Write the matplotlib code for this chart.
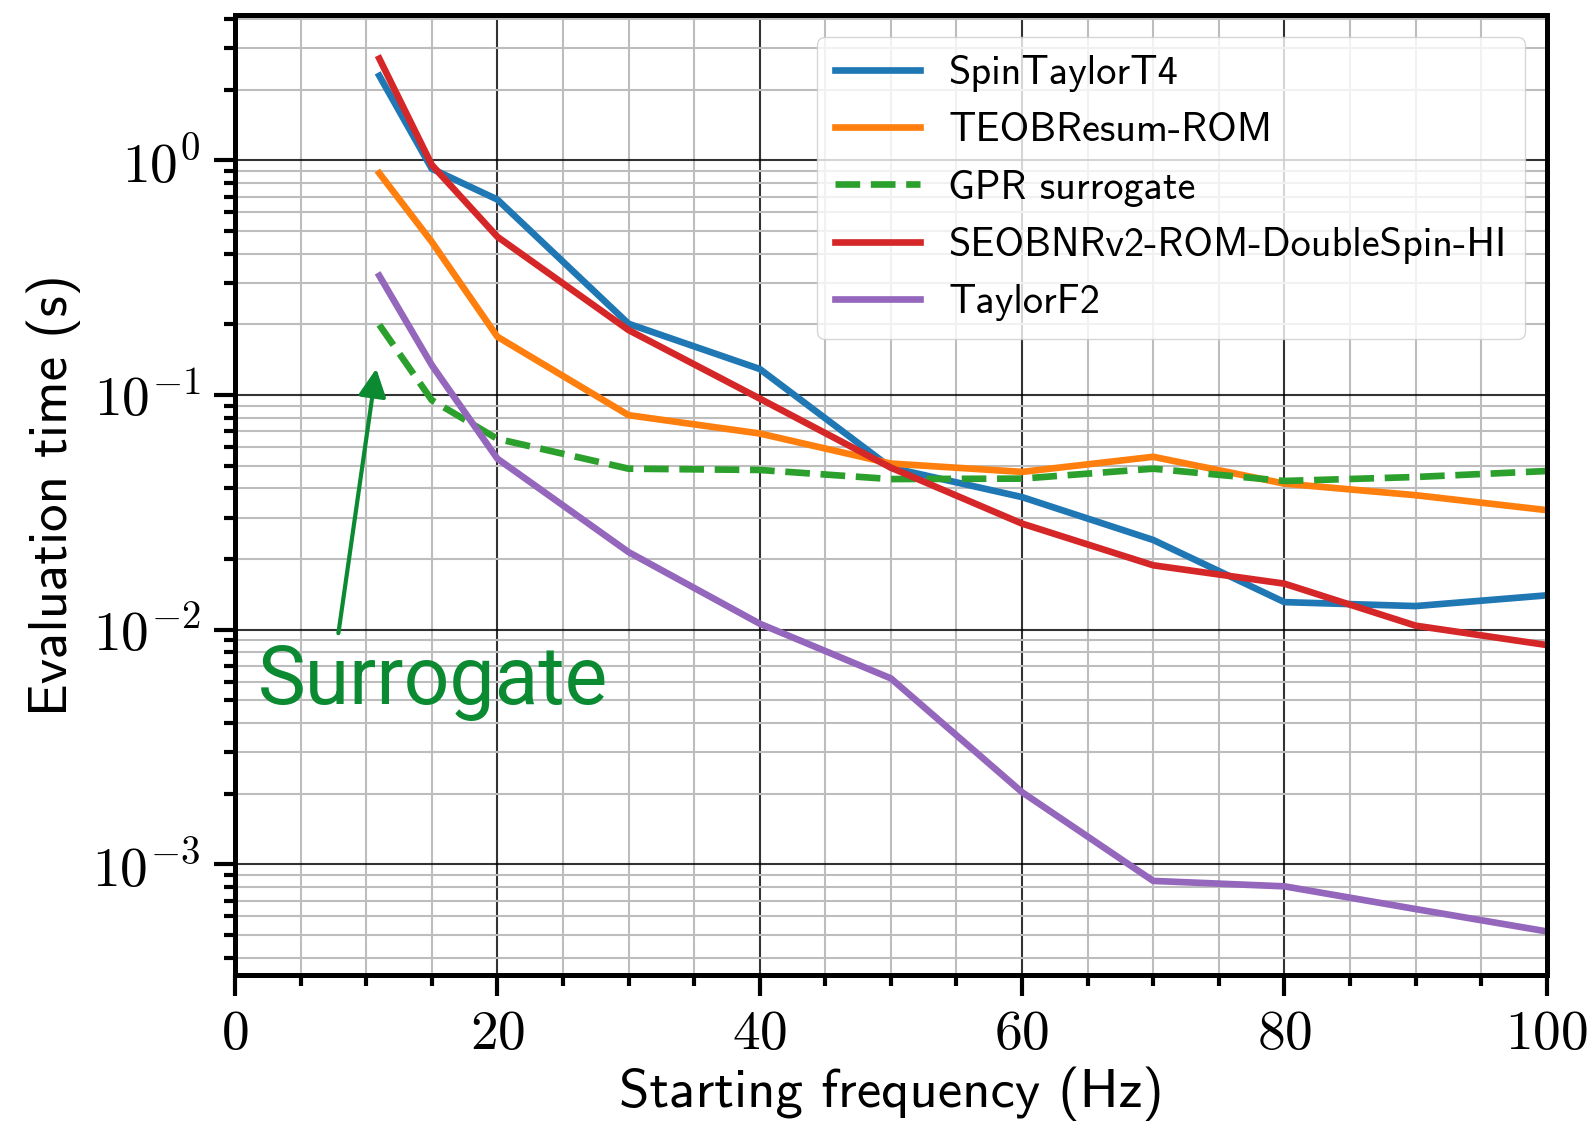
import math
import matplotlib
matplotlib.use('Agg')
import matplotlib.pyplot as plt
from matplotlib.ticker import FuncFormatter, LogLocator, MultipleLocator, NullFormatter

# starting frequencies (Hz)
freqs = [11, 15, 20, 30, 40, 50, 60, 70, 80, 90, 100]

# evaluation times (s)
spintaylort4 = [2.29, 0.92, 0.68, 0.201, 0.129, 0.049, 0.0367, 0.0241, 0.0131, 0.0126, 0.014]
teobresum_rom = [0.88, 0.449, 0.177, 0.082, 0.0685, 0.051, 0.047, 0.0545, 0.0419, 0.0374, 0.0323]
gpr_surrogate = [0.199, 0.095, 0.065, 0.0485, 0.0479, 0.0438, 0.044, 0.0485, 0.043, 0.0447, 0.0474]
seobnr_rom = [2.71, 0.955, 0.472, 0.189, 0.0965, 0.049, 0.0283, 0.0188, 0.0157, 0.0104, 0.0086]
taylorf2 = [0.322, 0.134, 0.0535, 0.0214, 0.0106, 0.0062, 0.00203, 0.00085, 0.000806, 0.000645, 0.000518]

labels = ['SpinTaylorT4', 'TEOBResum-ROM', 'GPR surrogate',
          'SEOBNRv2-ROM-DoubleSpin-HI', 'TaylorF2']

plt.rcParams['font.family'] = 'cmss10'
plt.rcParams['mathtext.fontset'] = 'cm'
plt.rcParams['axes.unicode_minus'] = False

fig, ax = plt.subplots(figsize=(15.88, 11.25), dpi=100)
fig.subplots_adjust(left=0.148, right=0.974, bottom=0.1333, top=0.9867)

lw = 4.8
ax.semilogy(freqs, spintaylort4, color='tab:blue', lw=lw, label=labels[0])
ax.semilogy(freqs, teobresum_rom, color='tab:orange', lw=lw, label=labels[1])
ax.semilogy(freqs, gpr_surrogate, color='tab:green', lw=lw, ls='--', label=labels[2])
ax.semilogy(freqs, seobnr_rom, color='tab:red', lw=lw, label=labels[3])
ax.semilogy(freqs, taylorf2, color='tab:purple', lw=lw, label=labels[4])

ax.set_xlim(0, 100)
ax.xaxis.set_major_locator(MultipleLocator(20))
ax.xaxis.set_minor_locator(MultipleLocator(5))
ax.yaxis.set_major_locator(LogLocator(base=10))
ax.yaxis.set_minor_locator(LogLocator(base=10, subs=range(2, 10)))
ax.yaxis.set_minor_formatter(NullFormatter())
ax.xaxis.set_major_formatter(FuncFormatter(lambda v, p: r'$%d$' % v))
ax.yaxis.set_major_formatter(FuncFormatter(lambda v, p: r'$10^{%d}$' % round(math.log10(v))))

ax.grid(True, which='major', color='black', lw=1.5, alpha=0.8)
ax.grid(True, which='minor', color='#bdbdbd', lw=1.5)

for s in ax.spines.values():
    s.set_linewidth(3.6)
ax.tick_params(which='major', length=15, width=3, labelsize=40, pad=10)
ax.tick_params(which='minor', length=8, width=3)

ax.set_xlabel('Starting frequency (Hz)', fontsize=39.5, labelpad=5)
ax.set_ylabel('Evaluation time (s)', fontsize=39.5, labelpad=8)

ax.legend(loc='upper right', fontsize=29, handlelength=2.1, handletextpad=0.7,
          borderpad=0.45, labelspacing=0.5, borderaxespad=0.55)

green = '#0b8a32'
ax.annotate('', xy=(10.8, 0.133), xytext=(7.85, 0.0094),
            arrowprops=dict(arrowstyle='-|>', color=green, lw=3, mutation_scale=42))
ax.text(1.75, 0.0048, 'Surrogate', color=green, fontsize=58,
        family='Roboto', ha='left', va='baseline')

fig.savefig('out.png', dpi=100)
